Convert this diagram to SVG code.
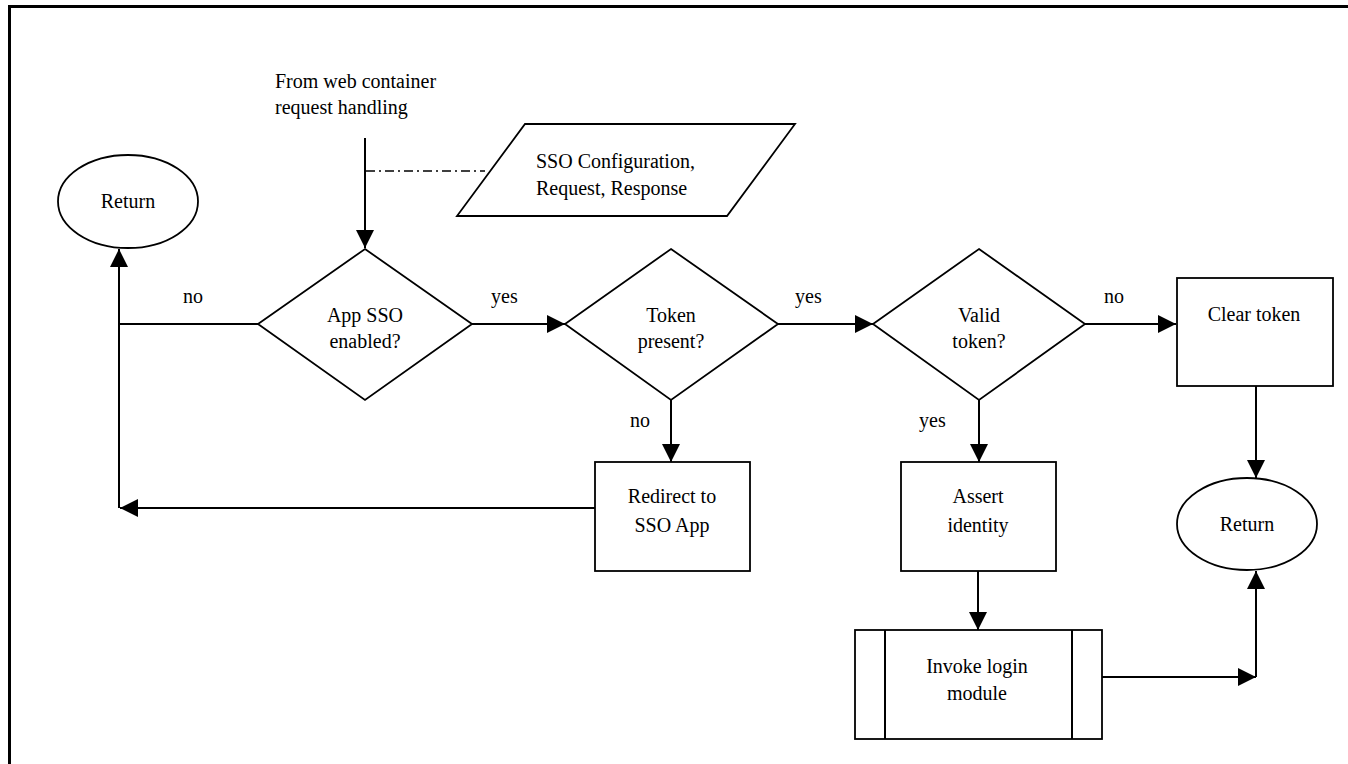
<svg xmlns="http://www.w3.org/2000/svg" width="1348" height="764" viewBox="0 0 1348 764">
<style>
text{font-family:"Liberation Serif","Times New Roman","DejaVu Serif",serif;font-size:20px;fill:#000}
.c{text-anchor:middle}
.s{fill:#fff;stroke:#000;stroke-width:1.8}
.ln{fill:none;stroke:#000;stroke-width:2}
.arr{marker-end:url(#ah)}
</style>
<defs>
<marker id="ah" markerUnits="userSpaceOnUse" markerWidth="20" markerHeight="20" refX="18" refY="9" orient="auto">
<path d="M0,0 L18,9 L0,18 z" fill="#000"/>
</marker>
</defs>
<rect width="1348" height="764" fill="#fff"/>
<path d="M9.5 764 V6.5 H1348" fill="none" stroke="#000" stroke-width="3"/>

<g id="connectors">
<path class="ln arr" d="M365 138 V248"/>
<path d="M366 171 H485" fill="none" stroke="#000" stroke-width="1.5" stroke-dasharray="9,4,2,4"/>
<path class="ln arr" d="M472 324 H565"/>
<path class="ln arr" d="M778 324 H873"/>
<path class="ln arr" d="M1085 324 H1176"/>
<path class="ln" d="M258 324 H119"/>
<path class="ln arr" d="M119 508 V249"/>
<path class="ln arr" d="M595 508 H120"/>
<path class="ln arr" d="M671 400 V462"/>
<path class="ln arr" d="M979 400 V462"/>
<path class="ln arr" d="M978 571 V630"/>
<path class="ln arr" d="M1256 386 V478"/>
<path class="ln arr" d="M1102 677 H1256"/>
<path class="ln arr" d="M1256 677 V571"/>
<text x="183" y="303">no</text>
<text x="491" y="303">yes</text>
<text x="795" y="303">yes</text>
<text x="1104" y="303">no</text>
<text x="630" y="427">no</text>
<text x="919" y="427">yes</text>
</g>

<g id="start">
<text x="275" y="88">From web container</text>
<text x="275" y="114">request handling</text>
</g>

<g id="config">
<polygon class="s" points="525,124 795,124 727,216 457,216"/>
<text x="536" y="168">SSO Configuration,</text>
<text x="536" y="195">Request, Response</text>
</g>

<g id="return1">
<ellipse class="s" cx="128" cy="201.5" rx="70" ry="46.5"/>
<text class="c" x="128" y="208">Return</text>
</g>

<g id="appSSO">
<polygon class="s" points="365,249 472,324 365,400 258,324"/>
<text class="c" x="365" y="322">App SSO</text>
<text class="c" x="365" y="348">enabled?</text>
</g>

<g id="tokenPresent">
<polygon class="s" points="671,249 778,324 671,400 565,324"/>
<text class="c" x="671" y="322">Token</text>
<text class="c" x="671" y="348">present?</text>
</g>

<g id="validToken">
<polygon class="s" points="979,249 1085,324 979,400 873,324"/>
<text class="c" x="979" y="322">Valid</text>
<text class="c" x="979" y="348">token?</text>
</g>

<g id="clearToken">
<rect class="s" x="1177" y="278" width="156" height="108"/>
<text class="c" x="1254" y="321">Clear token</text>
</g>

<g id="return2">
<ellipse class="s" cx="1247" cy="524" rx="70" ry="46"/>
<text class="c" x="1247" y="531">Return</text>
</g>

<g id="redirect">
<rect class="s" x="595" y="462" width="155" height="109"/>
<text class="c" x="672" y="503">Redirect to</text>
<text class="c" x="672" y="532">SSO App</text>
</g>

<g id="assert">
<rect class="s" x="901" y="462" width="155" height="109"/>
<text class="c" x="978" y="503">Assert</text>
<text class="c" x="978" y="532">identity</text>
</g>

<g id="invokeLogin">
<rect class="s" x="855" y="630" width="247" height="109"/>
<path class="ln" d="M885 630 V739 M1072 630 V739"/>
<text class="c" x="977" y="673">Invoke login</text>
<text class="c" x="977" y="700">module</text>
</g>
</svg>
